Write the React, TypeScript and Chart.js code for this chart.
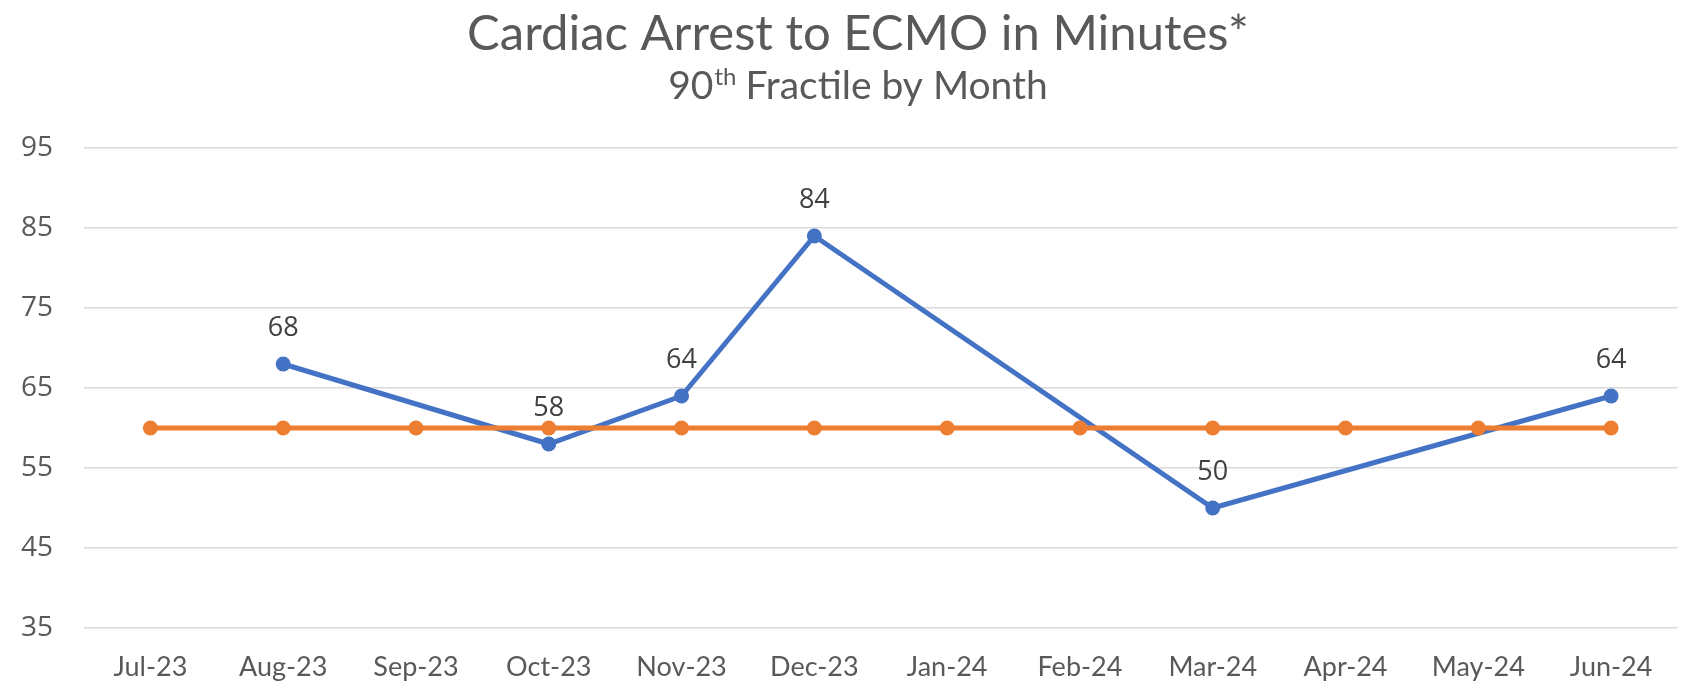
import React, { useEffect, useRef } from "react";
import { Chart, registerables } from "chart.js";

Chart.register(...registerables);

const categories = ["Jul-23", "Aug-23", "Sep-23", "Oct-23", "Nov-23", "Dec-23", "Jan-24", "Feb-24", "Mar-24", "Apr-24", "May-24", "Jun-24"];
const actualValues: (number | null)[] = [null, 68, null, 58, 64, 84, null, null, 50, null, null, 64];
const targetValues: number[] = [60, 60, 60, 60, 60, 60, 60, 60, 60, 60, 60, 60];
const yMin = 35;
const yMax = 95;
const yStep = 10;
const titleText = "Cardiac Arrest to ECMO in Minutes*";
const subtitleLead = "90";
const subtitleSup = "th";
const subtitleRest = " Fractile by Month";

const W = 1685;
const H = 691;

const headerPlugin = {
  id: "header",
  afterDraw(chart: any) {
    const ctx = chart.ctx as CanvasRenderingContext2D;
    const cx = 858;
    ctx.save();
    ctx.fillStyle = "#595959";
    ctx.textBaseline = "alphabetic";
    ctx.textAlign = "center";
    ctx.font = "49px Lato";
    ctx.fillText(titleText, cx, 50);
    // subtitle with superscript
    const mainFont = "39px Lato";
    const supFont = "24px Lato";
    ctx.font = mainFont;
    const w1 = ctx.measureText(subtitleLead).width;
    const w3 = ctx.measureText(subtitleRest).width;
    ctx.font = supFont;
    const w2 = ctx.measureText(subtitleSup).width;
    const total = w1 + w2 + w3;
    let x = cx - total / 2;
    ctx.textAlign = "left";
    ctx.font = mainFont;
    ctx.fillText(subtitleLead, x, 99);
    x += w1;
    ctx.font = supFont;
    ctx.fillText(subtitleSup, x + 1, 85);
    x += w2;
    ctx.font = mainFont;
    ctx.fillText(subtitleRest, x, 99);
    ctx.restore();
  },
};

const labelPlugin = {
  id: "valueLabels",
  afterDatasetsDraw(chart: any) {
    const ctx = chart.ctx as CanvasRenderingContext2D;
    const meta = chart.getDatasetMeta(0);
    ctx.save();
    ctx.fillStyle = "#404040";
    ctx.font = "27px 'Open Sans'";
    ctx.textAlign = "center";
    ctx.textBaseline = "middle";
    meta.data.forEach((pt: any, i: number) => {
      const v = actualValues[i];
      if (v == null) return;
      ctx.fillText(String(v), pt.x, pt.y - 36);
    });
    ctx.restore();
  },
};

export default function App() {
  const ref = useRef<HTMLCanvasElement | null>(null);
  useEffect(() => {
    document.body.style.margin = "0";
    const canvas = ref.current;
    if (!canvas) return;
    const chart = new Chart(canvas, {
      type: "line",
      data: {
        labels: categories,
        datasets: [
          {
            label: "90th Fractile",
            data: actualValues,
            borderColor: "#4472C4",
            backgroundColor: "#4472C4",
            borderWidth: 5,
            pointRadius: 7.5,
            pointHoverRadius: 7.5,
            pointBorderWidth: 0,
            spanGaps: true,
            tension: 0,
            order: 2,
          },
          {
            label: "Target",
            data: targetValues,
            borderColor: "#ED7D31",
            backgroundColor: "#ED7D31",
            borderWidth: 5,
            pointRadius: 7.5,
            pointHoverRadius: 7.5,
            pointBorderWidth: 0,
            tension: 0,
            order: 1,
          },
        ],
      },
      options: {
        responsive: false,
        animation: false,
        devicePixelRatio: 1,
        layout: { padding: { top: 148, right: 1, left: 0, bottom: 0 } },
        plugins: {
          legend: { display: false },
          title: { display: false },
          tooltip: { enabled: false },
        },
        scales: {
          x: {
            offset: true,
            grid: { display: false, drawTicks: false },
            border: { display: false },
            ticks: {
              color: "#595959",
              font: { family: "Lato", size: 27 },
              padding: 23,
              maxRotation: 0,
              autoSkip: false,
            },
            afterFit(scale: any) {
              scale.height = 63;
            },
          },
          y: {
            min: yMin,
            max: yMax,
            grid: { color: "#d9d9d9", lineWidth: 1.5, drawTicks: false },
            border: { display: false },
            ticks: {
              stepSize: yStep,
              color: "#595959",
              font: { family: "'Open Sans'", size: 28 },
              padding: 31,
            },
            afterFit(scale: any) {
              scale.width = 84;
            },
          },
        },
      },
      plugins: [headerPlugin, labelPlugin],
    } as any);
    return () => chart.destroy();
  }, []);
  return (
    <div style={{ position: "absolute", left: 0, top: 0, width: W, height: H, background: "#fff" }}>
      <canvas ref={ref} width={W} height={H} style={{ width: W, height: H, display: "block" }} />
    </div>
  );
}
